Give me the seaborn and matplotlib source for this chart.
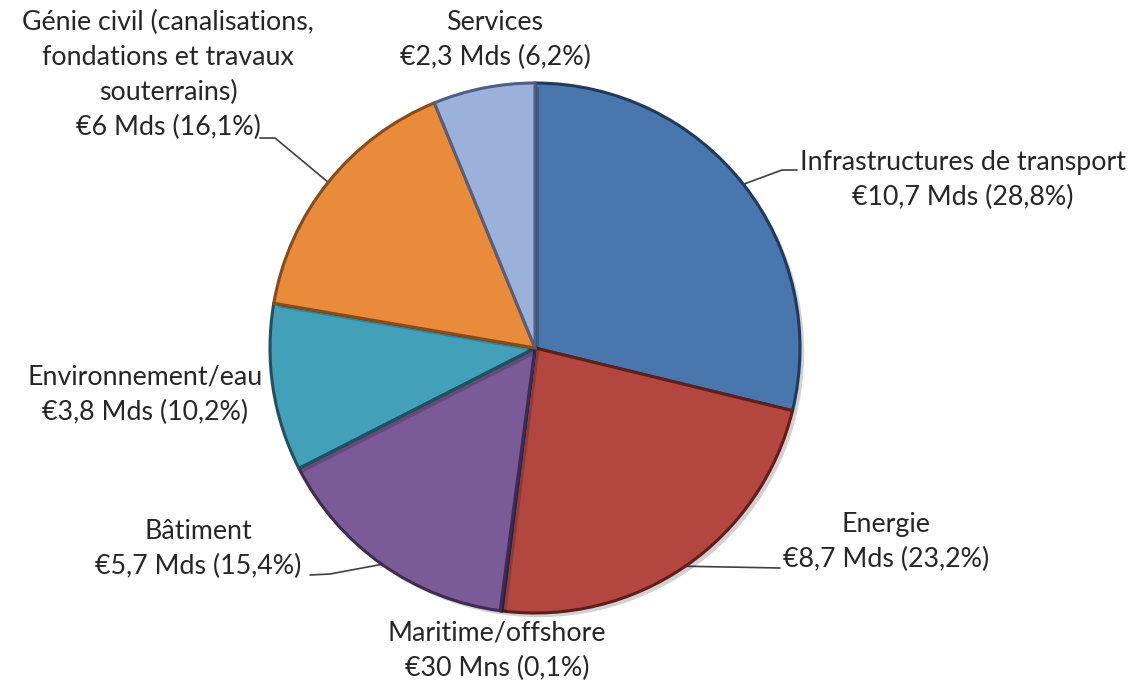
import numpy as np
import matplotlib
matplotlib.use("Agg")
import matplotlib.pyplot as plt
import matplotlib.patheffects as pe
import seaborn as sns

sns.set_theme(style="white")
plt.rcParams['font.family'] = ['Lato', 'DejaVu Sans']

# ---- data ----
categories = ["Infrastructures de transport", "Energie", "Maritime/offshore",
              "Bâtiment", "Environnement/eau",
              "Génie civil (canalisations,\nfondations et travaux\nsouterrains)",
              "Services"]
amounts = ["€10,7 Mds", "€8,7 Mds", "€30 Mns", "€5,7 Mds", "€3,8 Mds", "€6 Mds", "€2,3 Mds"]
shares = [28.8, 23.2, 0.1, 15.4, 10.2, 16.1, 6.2]
pct_labels = ["28,8%", "23,2%", "0,1%", "15,4%", "10,2%", "16,1%", "6,2%"]
colors = ["#4a76ae", "#b3463f", "#6a4f8a", "#7a5b98", "#43a0b9", "#e88b3a", "#9cb1da"]
edge_colors = ["#22395a", "#5e1f1b", "#33254a", "#3e2b52", "#1d5261", "#8a4a12", "#4f5f85"]

W, H = 1135, 690
fig = plt.figure(figsize=(W / 100, H / 100), dpi=100)
ax = fig.add_axes([0, 0, 1, 1])

cx, cy, R = 535, H - 348, 265
wedges, _ = ax.pie(shares, colors=colors, startangle=90, counterclock=False,
                   center=(cx, cy), radius=R,
                   wedgeprops=dict(edgecolor="none", linewidth=0))
for w, ec in zip(wedges, edge_colors):
    w.set_edgecolor(ec)
    w.set_linewidth(2.2)
    w.set_path_effects([pe.SimplePatchShadow(offset=(3, -3), shadow_rgbFace="#000000", alpha=0.18),
                        pe.Normal()])

ax.set_xlim(0, W)
ax.set_ylim(0, H)
ax.set_aspect('equal')
ax.axis('off')

# label layout (pixel positions, y from top)
label_pos = [(963, 180), (886, 542), (497, 651), (198, 549), (145, 395), (168, 75), (495, 40)]
txt_color = "#262626"
for cat, amt, pct, (tx, ty) in zip(categories, amounts, pct_labels, label_pos):
    ax.text(tx, H - ty, f"{cat}\n{amt} ({pct})", ha="center", va="center",
            multialignment="center", fontsize=19.3, color=txt_color, linespacing=1.5)

# leader lines: from wedge mid-angle on the rim to the label
elbows = {0: [(782, 170), (797, 170)], 1: [(780, 568)], 3: [(330, 574), (310, 575)],
          5: [(275, 138), (260, 138)]}
for i, pts in elbows.items():
    w = wedges[i]
    mid = np.deg2rad((w.theta1 + w.theta2) / 2)
    x0, y0 = cx + R * np.cos(mid), cy + R * np.sin(mid)
    xs = [x0] + [p[0] for p in pts]
    ys = [y0] + [H - p[1] for p in pts]
    ax.plot(xs, ys, color="#404040", lw=1.2, zorder=0.5)

fig.savefig("out.png", dpi=100, facecolor="white")
